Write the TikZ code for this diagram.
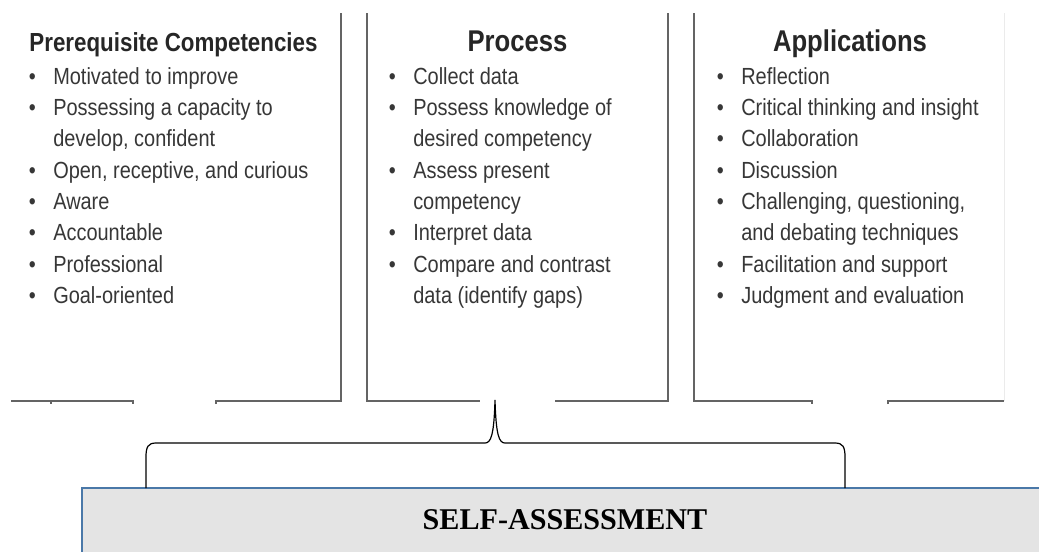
\documentclass[tikz,border=0pt]{standalone}
\usepackage{fontspec}
\setmainfont{Liberation Sans}
\newfontfamily\narrowfont[FakeStretch=0.855]{Liberation Sans}
\newfontfamily\timesfont{Liberation Serif}
\definecolor{textgray}{RGB}{55,55,55}
\definecolor{headgray}{RGB}{38,38,38}
\definecolor{linegray}{RGB}{100,100,100}
\definecolor{boxfill}{RGB}{228,228,228}
\definecolor{boxline}{RGB}{74,120,168}
\newcommand\bul{\makebox[18.4pt][l]{•}}
\tikzset{
  item/.style={anchor=base west, inner sep=0pt, text=textgray,
    font=\narrowfont\fontsize{17.5pt}{23.5pt}\selectfont},
  head/.style={anchor=base, inner sep=0pt, text=headgray,
    font=\narrowfont\bfseries\fontsize{22.5pt}{27pt}\selectfont},
  colline/.style={draw=linegray, line width=2pt},
  faintline/.style={draw=black!8, line width=0.75pt},
  bracestyle/.style={draw=black, line width=0.9pt},
  sabox/.style={fill=boxfill, draw=boxline, line width=2pt},
  satext/.style={anchor=base, inner sep=0pt, text=black,
    font=\timesfont\bfseries\fontsize{22.6pt}{26pt}\selectfont}
}
\begin{document}
\begin{tikzpicture}[x=0.75pt,y=-0.75pt]
\useasboundingbox (0,0) rectangle (1039,551);
\clip (0,0) rectangle (1039,551);
\fill[white] (0,0) rectangle (1039,551);

% column frames
\draw[faintline] (1004,13) -- (1004,401);
\draw[colline] (11,401) -- (133,401) -- (133,404);
\draw[colline] (51,401) -- (51,404);
\draw[colline] (216,404) -- (216,401) -- (341,401) -- (341,13);
\draw[colline] (367,13) -- (367,401) -- (480,401);
\draw[colline] (555,401) -- (668,401) -- (668,13);
\draw[colline] (694,13) -- (694,401) -- (812,401) -- (812,404);
\draw[colline] (888,404) -- (888,401) -- (1004,401);

% headings
\node[head, font=\narrowfont\bfseries\fontsize{19.6pt}{24pt}\selectfont] (h1) at (173.5,51) {Prerequisite Competencies};
\node[head] (h2) at (517.5,51) {Process};
\node[head] (h3) at (850,51) {Applications};

% column 1
\node[item] (a1) at (28.5,84) {\bul Motivated to improve};
\node[item] (a2) at (28.5,115.4) {\bul Possessing a capacity to};
\node[item] (a2b) at (53,146.7) {develop, confident};
\node[item] (a3) at (28.5,178.1) {\bul Open, receptive, and curious};
\node[item] (a4) at (28.5,209.4) {\bul Aware};
\node[item] (a5) at (28.5,240.8) {\bul Accountable};
\node[item] (a6) at (28.5,272.1) {\bul Professional};
\node[item] (a7) at (28.5,303.5) {\bul Goal-oriented};

% column 2
\node[item] (b1) at (388.5,84) {\bul Collect data};
\node[item] (b2) at (388.5,115.4) {\bul Possess knowledge of};
\node[item] (b2b) at (413,146.7) {desired competency};
\node[item] (b3) at (388.5,178.1) {\bul Assess present};
\node[item] (b3b) at (413,209.4) {competency};
\node[item] (b4) at (388.5,240.8) {\bul Interpret data};
\node[item] (b5) at (388.5,272.1) {\bul Compare and contrast};
\node[item] (b5b) at (413,303.5) {data (identify gaps)};

% column 3
\node[item] (c1) at (716.5,84) {\bul Reflection};
\node[item] (c2) at (716.5,115.4) {\bul Critical thinking and insight};
\node[item] (c3) at (716.5,146.7) {\bul Collaboration};
\node[item] (c4) at (716.5,178.1) {\bul Discussion};
\node[item] (c5) at (716.5,209.4) {\bul Challenging, questioning,};
\node[item] (c5b) at (741,240.8) {and debating techniques};
\node[item] (c6) at (716.5,272.1) {\bul Facilitation and support};
\node[item] (c7) at (716.5,303.5) {\bul Judgment and evaluation};

% self-assessment box
\draw[sabox] (82,488) rectangle (1060,580);
\node[satext] (sa) at (565,529) {SELF-ASSESSMENT};

% brace
\draw[bracestyle] (146,488) -- (146,457)
  .. controls (146,447) and (148,443) .. (156,443)
  -- (485,443)
  .. controls (491,443) and (494,435) .. (495,400)
  .. controls (496,435) and (499,443) .. (505,443)
  -- (835,443)
  .. controls (843,443) and (845,447) .. (845,457)
  -- (845,488);
\end{tikzpicture}
\end{document}
